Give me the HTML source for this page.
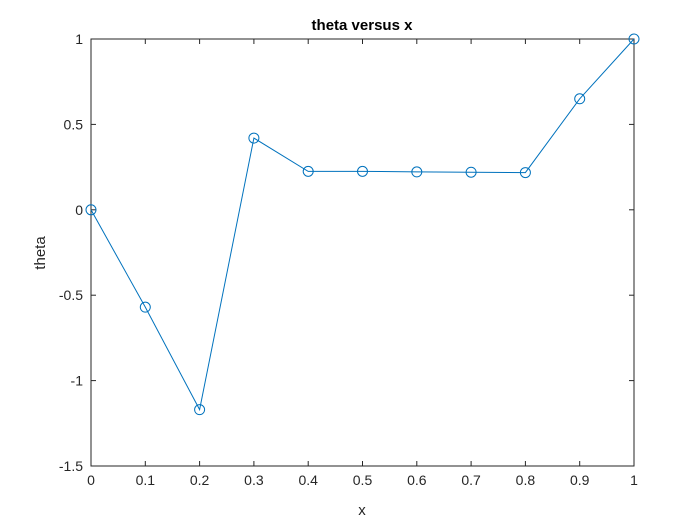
<!DOCTYPE html>
<html><head><meta charset="utf-8"><style>
body{margin:0;background:#fff;}
svg{display:block;font-family:"Liberation Sans",Arial,sans-serif;}
</style></head><body>
<svg id="c" width="700" height="525">
<rect x="0" y="0" width="700" height="525" fill="#fff"/>
<rect x="91" y="39" width="543" height="427" fill="#fff" stroke="#262626" stroke-width="1"/>
<text x="362" y="30" text-anchor="middle" font-size="15" font-weight="bold" fill="#000">theta versus x</text>
<text x="362" y="515" text-anchor="middle" font-size="15" fill="#262626">x</text>
<text x="0" y="0" transform="translate(45,253) rotate(-90)" text-anchor="middle" font-size="15" fill="#262626">theta</text>
<g id="ticks"></g>
<g id="series"></g>
</svg>
<script>
const xValues=[0,0.1,0.2,0.3,0.4,0.5,0.6,0.7,0.8,0.9,1];
const thetaValues=[0,-0.57,-1.17,0.42,0.225,0.225,0.222,0.22,0.218,0.65,1.0];
const xTicks=[0,0.1,0.2,0.3,0.4,0.5,0.6,0.7,0.8,0.9,1];
const yTicks=[-1.5,-1,-0.5,0,0.5,1];
const L=91,R=634,T=39,B=466;
const sx=v=>L+(v-0)/(1-0)*(R-L);
const sy=v=>B-(v+1.5)/(2.5)*(B-T);
const NS='http://www.w3.org/2000/svg';
const tg=document.getElementById('ticks'),sg=document.getElementById('series');
function mk(tag,a,p){const e=document.createElementNS(NS,tag);for(const k in a)e.setAttribute(k,a[k]);p.appendChild(e);return e;}
xTicks.forEach(v=>{const x=sx(v);
mk('line',{x1:x,x2:x,y1:B,y2:B-5,stroke:'#262626'},tg);
mk('line',{x1:x,x2:x,y1:T,y2:T+5,stroke:'#262626'},tg);
const t=mk('text',{x:x,y:B+19,'text-anchor':'middle','font-size':14,fill:'#262626'},tg);


t.textContent=String(v);});
yTicks.forEach(v=>{const y=sy(v);
mk('line',{x1:L,x2:L+5,y1:y,y2:y,stroke:'#262626'},tg);
mk('line',{x1:R,x2:R-5,y1:y,y2:y,stroke:'#262626'},tg);
const t=mk('text',{x:L-8,y:y+5,'text-anchor':'end','font-size':14,fill:'#262626'},tg);


t.textContent=String(v);});
const pts=xValues.map((x,i)=>sx(x)+','+sy(thetaValues[i])).join(' ');
const pl=mk('polyline',{points:pts,fill:'none',stroke:'#0072bd','stroke-width':1},sg);


xValues.forEach((x,i)=>{const c=mk('circle',{cx:sx(x),cy:sy(thetaValues[i]),r:5,fill:'none',stroke:'#0072bd','stroke-width':1},sg);

});
</script>
</body></html>
